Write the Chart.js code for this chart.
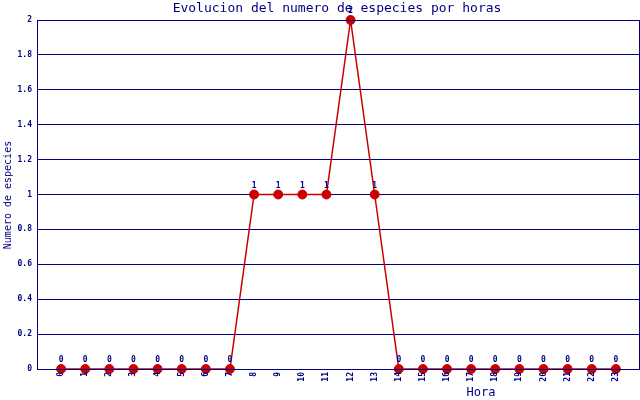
<!DOCTYPE html>
<html lang="es">
<head>
    <meta charset="UTF-8">
    <title>Evolucion del numero de especies por horas</title>
    <style>
        html, body {
            margin: 0;
            padding: 0;
            background: #ffffff;
            overflow: hidden;
        }
        canvas {
            display: block;
        }
    </style>
    <script src="https://cdn.jsdelivr.net/npm/chart.js"></script>
</head>
<body>
    <canvas id="chart" width="640" height="400"></canvas>

    <script>
        // Data
        const horas = [0, 1, 2, 3, 4, 5, 6, 7, 8, 9, 10, 11, 12, 13, 14, 15, 16, 17, 18, 19, 20, 21, 22, 23];
        const especies = [0, 0, 0, 0, 0, 0, 0, 0, 1, 1, 1, 1, 2, 1, 0, 0, 0, 0, 0, 0, 0, 0, 0, 0];
        const yTicks = [0, 0.2, 0.4, 0.6, 0.8, 1, 1.2, 1.4, 1.6, 1.8, 2];

        const navy = '#000080';
        const red = '#cc0000';
        const mono = '"DejaVu Sans Mono", "Liberation Mono", monospace';

        // Text bits drawn by hand: title, axis titles, x labels, value labels, frame
        const extras = {
            id: 'extras',
            afterDraw(chart) {
                const ctx = chart.ctx;
                const area = chart.chartArea;
                const x = chart.scales.x;
                const y = chart.scales.y;
                ctx.save();

                // frame round the plot
                ctx.strokeStyle = navy;
                ctx.lineWidth = 1;
                ctx.strokeRect(area.left + 0.5, area.top + 0.5, area.right - area.left - 1, area.bottom - area.top);

                ctx.fillStyle = navy;

                // title
                ctx.font = '13px ' + mono;
                ctx.textAlign = 'center';
                ctx.textBaseline = 'middle';
                ctx.fillText('Evolucion del numero de especies por horas', 337, 9);

                // x title
                ctx.font = '12px ' + mono;
                ctx.fillText('Hora', 481, 393);

                // y title
                ctx.save();
                ctx.font = '10px ' + mono;
                ctx.translate(8, 195);
                ctx.rotate(-Math.PI / 2);
                ctx.fillText('Numero de especies', 0, 0);
                ctx.restore();

                // x tick labels, turned on their side
                ctx.font = 'bold 8px ' + mono;
                horas.forEach(h => {
                    ctx.save();
                    ctx.translate(Math.round(x.getPixelForValue(h)), 372);
                    ctx.rotate(-Math.PI / 2);
                    ctx.textAlign = 'right';
                    ctx.textBaseline = 'middle';
                    ctx.fillText(String(h), 0, 0);
                    ctx.restore();
                });

                // value labels above the points
                ctx.textAlign = 'center';
                ctx.textBaseline = 'bottom';
                horas.forEach((h, i) => {
                    ctx.fillText(String(especies[i]), x.getPixelForValue(h), y.getPixelForValue(especies[i]) - 5);
                });

                ctx.restore();
            }
        };

        new Chart(document.getElementById('chart'), {
            type: 'line',
            data: {
                datasets: [{
                    data: horas.map((h, i) => ({ x: h, y: especies[i] })),
                    borderColor: red,
                    borderWidth: 1.5,
                    backgroundColor: red,
                    pointBackgroundColor: red,
                    pointBorderColor: red,
                    pointRadius: 4.5,
                    pointBorderWidth: 1,
                    tension: 0,
                    clip: false
                }]
            },
            options: {
                responsive: false,
                animation: false,
                events: [],
                layout: {
                    autoPadding: false,
                    padding: { top: 20, bottom: 31, right: 0, left: 0 }
                },
                plugins: {
                    legend: { display: false },
                    tooltip: { enabled: false }
                },
                scales: {
                    x: {
                        type: 'linear',
                        min: -1,
                        max: 24,
                        display: false
                    },
                    y: {
                        min: 0,
                        max: 2,
                        afterFit(scale) {
                            scale.width = 37;
                        },
                        afterBuildTicks(scale) {
                            scale.ticks = yTicks.map(v => ({ value: v }));
                        },
                        ticks: {
                            color: navy,
                            padding: 5,
                            font: { family: mono, size: 8, weight: 'bold' },
                            callback: v => String(v)
                        },
                        grid: {
                            color: navy,
                            lineWidth: 1,
                            drawTicks: false
                        },
                        border: {
                            color: navy,
                            width: 1
                        }
                    }
                }
            },
            plugins: [extras]
        });
    </script>
</body>
</html>
